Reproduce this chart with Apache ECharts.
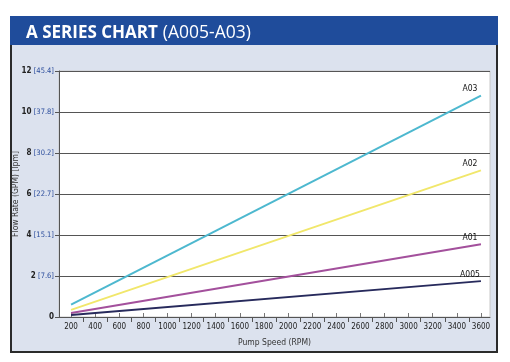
<!DOCTYPE html>
<html><head><meta charset="utf-8">
<script src="https://cdn.jsdelivr.net/npm/echarts@6/dist/echarts.min.js"></script>
<style>html,body{margin:0;padding:0;background:#fff}#c{width:510px;height:362px}</style>
</head><body><div id="c"></div>
<script>
var rpm = [200, 3600];
var seriesNames = ['A03', 'A02', 'A01', 'A005'];
var a03 = [0.6, 10.8];
var a02 = [0.35, 7.15];
var a01 = [0.2, 3.55];
var a005 = [0.1, 1.75];
var xTickLabels = [200,400,600,800,1000,1200,1400,1600,1800,2000,2200,2400,2600,2800,3000,3200,3400,3600];
var xMidTicks = [300,500,700,900,1100,1300,1500,1700,1900,2100,2300,2500,2700,2900,3100,3300,3500];
var yGpm = [0, 2, 4, 6, 8, 10, 12];
var yLpm = ['', '7.6', '15.1', '22.7', '30.2', '37.8', '45.4'];
var colors = ['#4db8cf', '#f1e76b', '#a3509c', '#272a5c'];
var values = [a03, a02, a01, a005];

var FONT = '"Liberation Sans Narrow","DejaVu Sans Condensed",sans-serif';
var chart = echarts.init(document.getElementById('c'));
var series = seriesNames.map(function (n, i) {
  return {
    name: n, type: 'line', xAxisIndex: 0, yAxisIndex: 0,
    symbol: 'circle', symbolSize: 0, showSymbol: true, silent: true,
    itemStyle: { color: colors[i] },
    lineStyle: { color: colors[i], width: 2 },
    data: rpm.map(function (x, j) {
      var d = { value: [x, values[i][j]] };
      if (j === rpm.length - 1) {
        d.label = { show: true, formatter: n, position: 'top', distance: 2, offset: [-11, 0],
          color: '#111', fontSize: 8.5, fontFamily: FONT };
      }
      return d;
    })
  };
});
chart.setOption({
  animation: false,
  graphic: [
    { type: 'rect', z: -10, shape: { x: 11, y: 17, width: 486, height: 335 },
      style: { fill: '#dce2ee', stroke: '#2b2b2b', lineWidth: 2 } },
    { type: 'rect', z: -9, shape: { x: 10, y: 16, width: 488, height: 29 },
      style: { fill: '#1f4c9b' } }
  ],
  title: {
    left: 21, top: 19,
    text: '{b|A SERIES CHART} {r|(A005-A03)}',
    textStyle: { rich: {
      b: { color: '#fff', fontSize: 17, fontWeight: 'bold', fontFamily: '"Open Sans","Noto Sans",sans-serif' },
      r: { color: '#fff', fontSize: 17.5, fontWeight: 'normal', fontFamily: '"Open Sans","Noto Sans",sans-serif' }
    } }
  },
  grid: { left: 59, right: 20, top: 71, bottom: 45, show: true, backgroundColor: '#ffffff',
    borderColor: '#c8c8c8', borderWidth: 1, outerBoundsMode: 'none', containLabel: false },
  xAxis: [{
    type: 'value', min: 100, max: 3675,
    name: 'Pump Speed (RPM)', nameLocation: 'middle', nameGap: 21, nameMoveOverlap: false,
    nameTextStyle: { color: '#333', fontSize: 8.5, fontFamily: FONT },
    axisLine: { show: true, lineStyle: { color: '#555', width: 1 } },
    axisTick: { show: true, inside: false, length: 5, customValues: xMidTicks, lineStyle: { color: '#555' } },
    axisLabel: { customValues: xTickLabels, color: '#222', fontSize: 8, margin: 6, fontFamily: FONT,
      formatter: function (v) { return String(v); } },
    splitLine: { show: false }
  }, {
    type: 'value', min: 100, max: 3675, position: 'bottom',
    axisLine: { show: false },
    axisTick: { show: true, inside: true, length: 4, customValues: xTickLabels, lineStyle: { color: '#777' } },
    axisLabel: { show: false },
    splitLine: { show: false }
  }],
  yAxis: {
    type: 'value', min: 0, max: 12, interval: 2,
    name: 'Flow Rate (GPM) [lpm]', nameLocation: 'middle', nameGap: 39, nameMoveOverlap: false,
    nameTextStyle: { color: '#333', fontSize: 8.5, fontFamily: FONT },
    axisLine: { show: true, lineStyle: { color: '#555', width: 1 } },
    axisTick: { show: true, length: 4, lineStyle: { color: '#555' } },
    axisLabel: {
      margin: 5, fontFamily: FONT,
      formatter: function (v) {
        var i = yGpm.indexOf(v);
        return yLpm[i] ? '{n|' + v + '}{l| [' + yLpm[i] + ']}' : '{n|' + v + '}';
      },
      rich: { n: { color: '#222', fontSize: 8, fontWeight: 'bold', fontFamily: FONT },
              l: { color: '#2a4c9c', fontSize: 7.5, fontFamily: FONT } }
    },
    splitLine: { show: true, lineStyle: { color: '#555', width: 1 } }
  },
  series: series
});
</script></body></html>
